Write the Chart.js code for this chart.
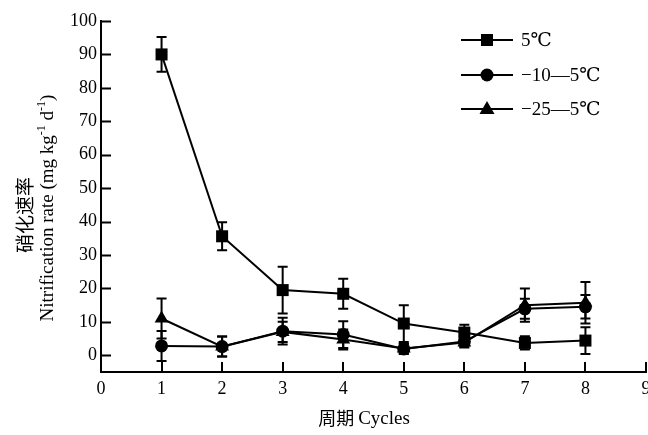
<!DOCTYPE html>
<html>
<head>
<meta charset="utf-8">
<script src="https://cdn.jsdelivr.net/npm/chart.js@4.4.1/dist/chart.umd.min.js"></script>
<style>
  html, body { margin: 0; padding: 0; background: #fff; }
  #wrap { width: 648px; height: 435px; }
</style>
</head>
<body>
<div id="wrap"><canvas id="c" width="648" height="435"></canvas></div>
<script>
// Nitrification rate per freeze–thaw cycle, three temperature regimes
const cycles = [1, 2, 3, 4, 5, 6, 7, 8];

const rate5 = [90, 35.6, 19.5, 18.4, 9.5, 6.8, 3.7, 4.4];
const err5 = [5.2, 4.2, 7, 4.5, 5.5, 2.3, 2, 4];

const rate10 = [2.8, 2.6, 7.2, 6.2, 1.9, 4.1, 13.9, 14.5];
const err10 = [4.5, 3, 4, 4, 1.5, 1.5, 3, 3.5];

const rate25 = [11, 2.6, 7, 4.7, 2, 3.8, 15, 15.7];
const err25 = [6, 3, 3, 3, 1.5, 1.5, 5, 6.2];

const seriesNames = ['5℃', '−10—5℃', '−25—5℃'];
const xTicks = [0, 1, 2, 3, 4, 5, 6, 7, 8, 9];
const yTicks = [0, 10, 20, 30, 40, 50, 60, 70, 80, 90, 100];

const SERIF = '"Liberation Serif", "DejaVu Serif", serif';
const CJK = '"Noto Sans CJK SC", sans-serif';

function toPoints(vals) {
  return cycles.map((c, i) => ({ x: c, y: vals[i] }));
}

function seriesDataset(label, vals, errs, style, radius) {
  return {
    label: label,
    data: toPoints(vals),
    errors: errs,
    borderColor: '#000',
    backgroundColor: '#000',
    borderWidth: 2,
    pointStyle: style,
    pointRadius: radius,
    pointHoverRadius: radius,
    pointBorderWidth: 0,
    pointBackgroundColor: '#000',
    tension: 0,
    fill: false
  };
}

// vertical error bars with short caps, drawn under the markers
const errorBars = {
  id: 'errorBars',
  beforeDatasetsDraw(chart) {
    const ctx = chart.ctx;
    const xs = chart.scales.x, ys = chart.scales.y;
    ctx.save();
    ctx.strokeStyle = '#000';
    ctx.lineWidth = 2;
    chart.data.datasets.forEach(ds => {
      ds.data.forEach((p, i) => {
        const e = ds.errors[i];
        const px = xs.getPixelForValue(p.x);
        const top = ys.getPixelForValue(p.y + e);
        const bot = ys.getPixelForValue(p.y - e);
        ctx.beginPath();
        ctx.moveTo(px, top); ctx.lineTo(px, bot);
        ctx.moveTo(px - 5, top); ctx.lineTo(px + 5, top);
        ctx.moveTo(px - 5, bot); ctx.lineTo(px + 5, bot);
        ctx.stroke();
      });
    });
    ctx.restore();
  }
};

// inward tick marks on both axes
const innerTicks = {
  id: 'innerTicks',
  afterDraw(chart) {
    const ctx = chart.ctx;
    const xs = chart.scales.x, ys = chart.scales.y;
    const a = chart.chartArea;
    ctx.save();
    ctx.strokeStyle = '#000';
    ctx.lineWidth = 2;
    ctx.beginPath();
    xTicks.forEach(v => {
      if (v === 0) return;
      const px = Math.round(xs.getPixelForValue(v));
      ctx.moveTo(px, a.bottom); ctx.lineTo(px, a.bottom - 10);
    });
    yTicks.forEach(v => {
      const py = Math.round(ys.getPixelForValue(v)) + 0.5;
      ctx.moveTo(a.left, py); ctx.lineTo(a.left + 10, py);
    });
    ctx.stroke();
    ctx.restore();
  }
};

function marker(ctx, style, x, y) {
  ctx.beginPath();
  if (style === 'rect') {
    ctx.rect(x - 6, y - 6, 12, 12);
  } else if (style === 'circle') {
    ctx.arc(x, y, 6.5, 0, Math.PI * 2);
  } else {
    ctx.moveTo(x, y - 8);
    ctx.lineTo(x + 7.5, y + 5);
    ctx.lineTo(x - 7.5, y + 5);
    ctx.closePath();
  }
  ctx.fill();
}

// legend block in the upper right, plus axis titles
const decorations = {
  id: 'decorations',
  afterDraw(chart) {
    const ctx = chart.ctx;
    ctx.save();
    ctx.fillStyle = '#000';
    ctx.strokeStyle = '#000';
    ctx.lineWidth = 2;

    const rows = [40, 75, 109];
    chart.data.datasets.forEach((ds, i) => {
      const y = rows[i];
      ctx.beginPath();
      ctx.moveTo(461, y); ctx.lineTo(513, y);
      ctx.stroke();
      marker(ctx, ds.pointStyle, 487, y);
      ctx.font = '19px ' + SERIF;
      ctx.textAlign = 'left';
      ctx.textBaseline = 'middle';
      ctx.fillText(ds.label, 521, y + 1);
    });

    // x-axis title
    ctx.textBaseline = 'middle';
    const cn = '周期';
    ctx.font = '18px ' + CJK;
    const wcn = ctx.measureText(cn + ' ').width;
    ctx.font = '19px ' + SERIF;
    const wen = ctx.measureText('Cycles').width;
    const x0 = 364 - (wcn + wen) / 2;
    ctx.textAlign = 'left';
    ctx.font = '18px ' + CJK;
    ctx.fillText(cn, x0, 418);
    ctx.font = '19px ' + SERIF;
    ctx.fillText('Cycles', x0 + wcn, 419);

    // y-axis title, two rotated lines
    ctx.save();
    ctx.translate(25, 215);
    ctx.rotate(-Math.PI / 2);
    ctx.font = '19px ' + CJK;
    ctx.textAlign = 'center';
    ctx.fillText('硝化速率', 0, 0);
    ctx.restore();

    ctx.save();
    ctx.translate(47, 208);
    ctx.rotate(-Math.PI / 2);
    const parts = [
      ['Nitrification rate (mg kg', 19, 0],
      ['-1', 12, -6],
      [' d', 19, 0],
      ['-1', 12, -6],
      [')', 19, 0]
    ];
    let total = 0;
    parts.forEach(p => { ctx.font = p[1] + 'px ' + SERIF; total += ctx.measureText(p[0]).width; });
    let cx = -total / 2;
    ctx.textAlign = 'left';
    ctx.textBaseline = 'middle';
    parts.forEach(p => {
      ctx.font = p[1] + 'px ' + SERIF;
      ctx.fillText(p[0], cx, p[2] + 1);
      cx += ctx.measureText(p[0]).width;
    });
    ctx.restore();

    ctx.restore();
  }
};

new Chart(document.getElementById('c'), {
  type: 'line',
  data: {
    datasets: [
      seriesDataset(seriesNames[0], rate5, err5, 'rect', 8.5),
      seriesDataset(seriesNames[1], rate10, err10, 'circle', 6.5),
      seriesDataset(seriesNames[2], rate25, err25, 'triangle', 8)
    ]
  },
  options: {
    responsive: false,
    animation: false,
    devicePixelRatio: 1,
    layout: { autoPadding: false, padding: { left: 0, right: 2, top: 21, bottom: 0 } },
    plugins: {
      legend: { display: false },
      tooltip: { enabled: false }
    },
    scales: {
      x: {
        type: 'linear',
        min: 0,
        max: 9,
        afterBuildTicks: s => { s.ticks = xTicks.map(v => ({ value: v })); },
        afterFit: s => { s.height = 63; s.paddingLeft = 0; s.paddingRight = 0; },
        grid: { display: false, drawTicks: false },
        border: { display: true, color: '#000', width: 2 },
        ticks: {
          color: '#000',
          padding: 6,
          maxRotation: 0,
          font: { family: SERIF, size: 18 }
        }
      },
      y: {
        type: 'linear',
        min: -5,
        max: 100,
        afterBuildTicks: s => { s.ticks = yTicks.map(v => ({ value: v })); },
        afterFit: s => { s.width = 101; s.paddingTop = 0; s.paddingBottom = 0; },
        grid: { display: false, drawTicks: false },
        border: { display: true, color: '#000', width: 2 },
        ticks: {
          color: '#000',
          padding: 4,
          font: { family: SERIF, size: 18 }
        }
      }
    }
  },
  plugins: [errorBars, innerTicks, decorations]
});
</script>
</body>
</html>
